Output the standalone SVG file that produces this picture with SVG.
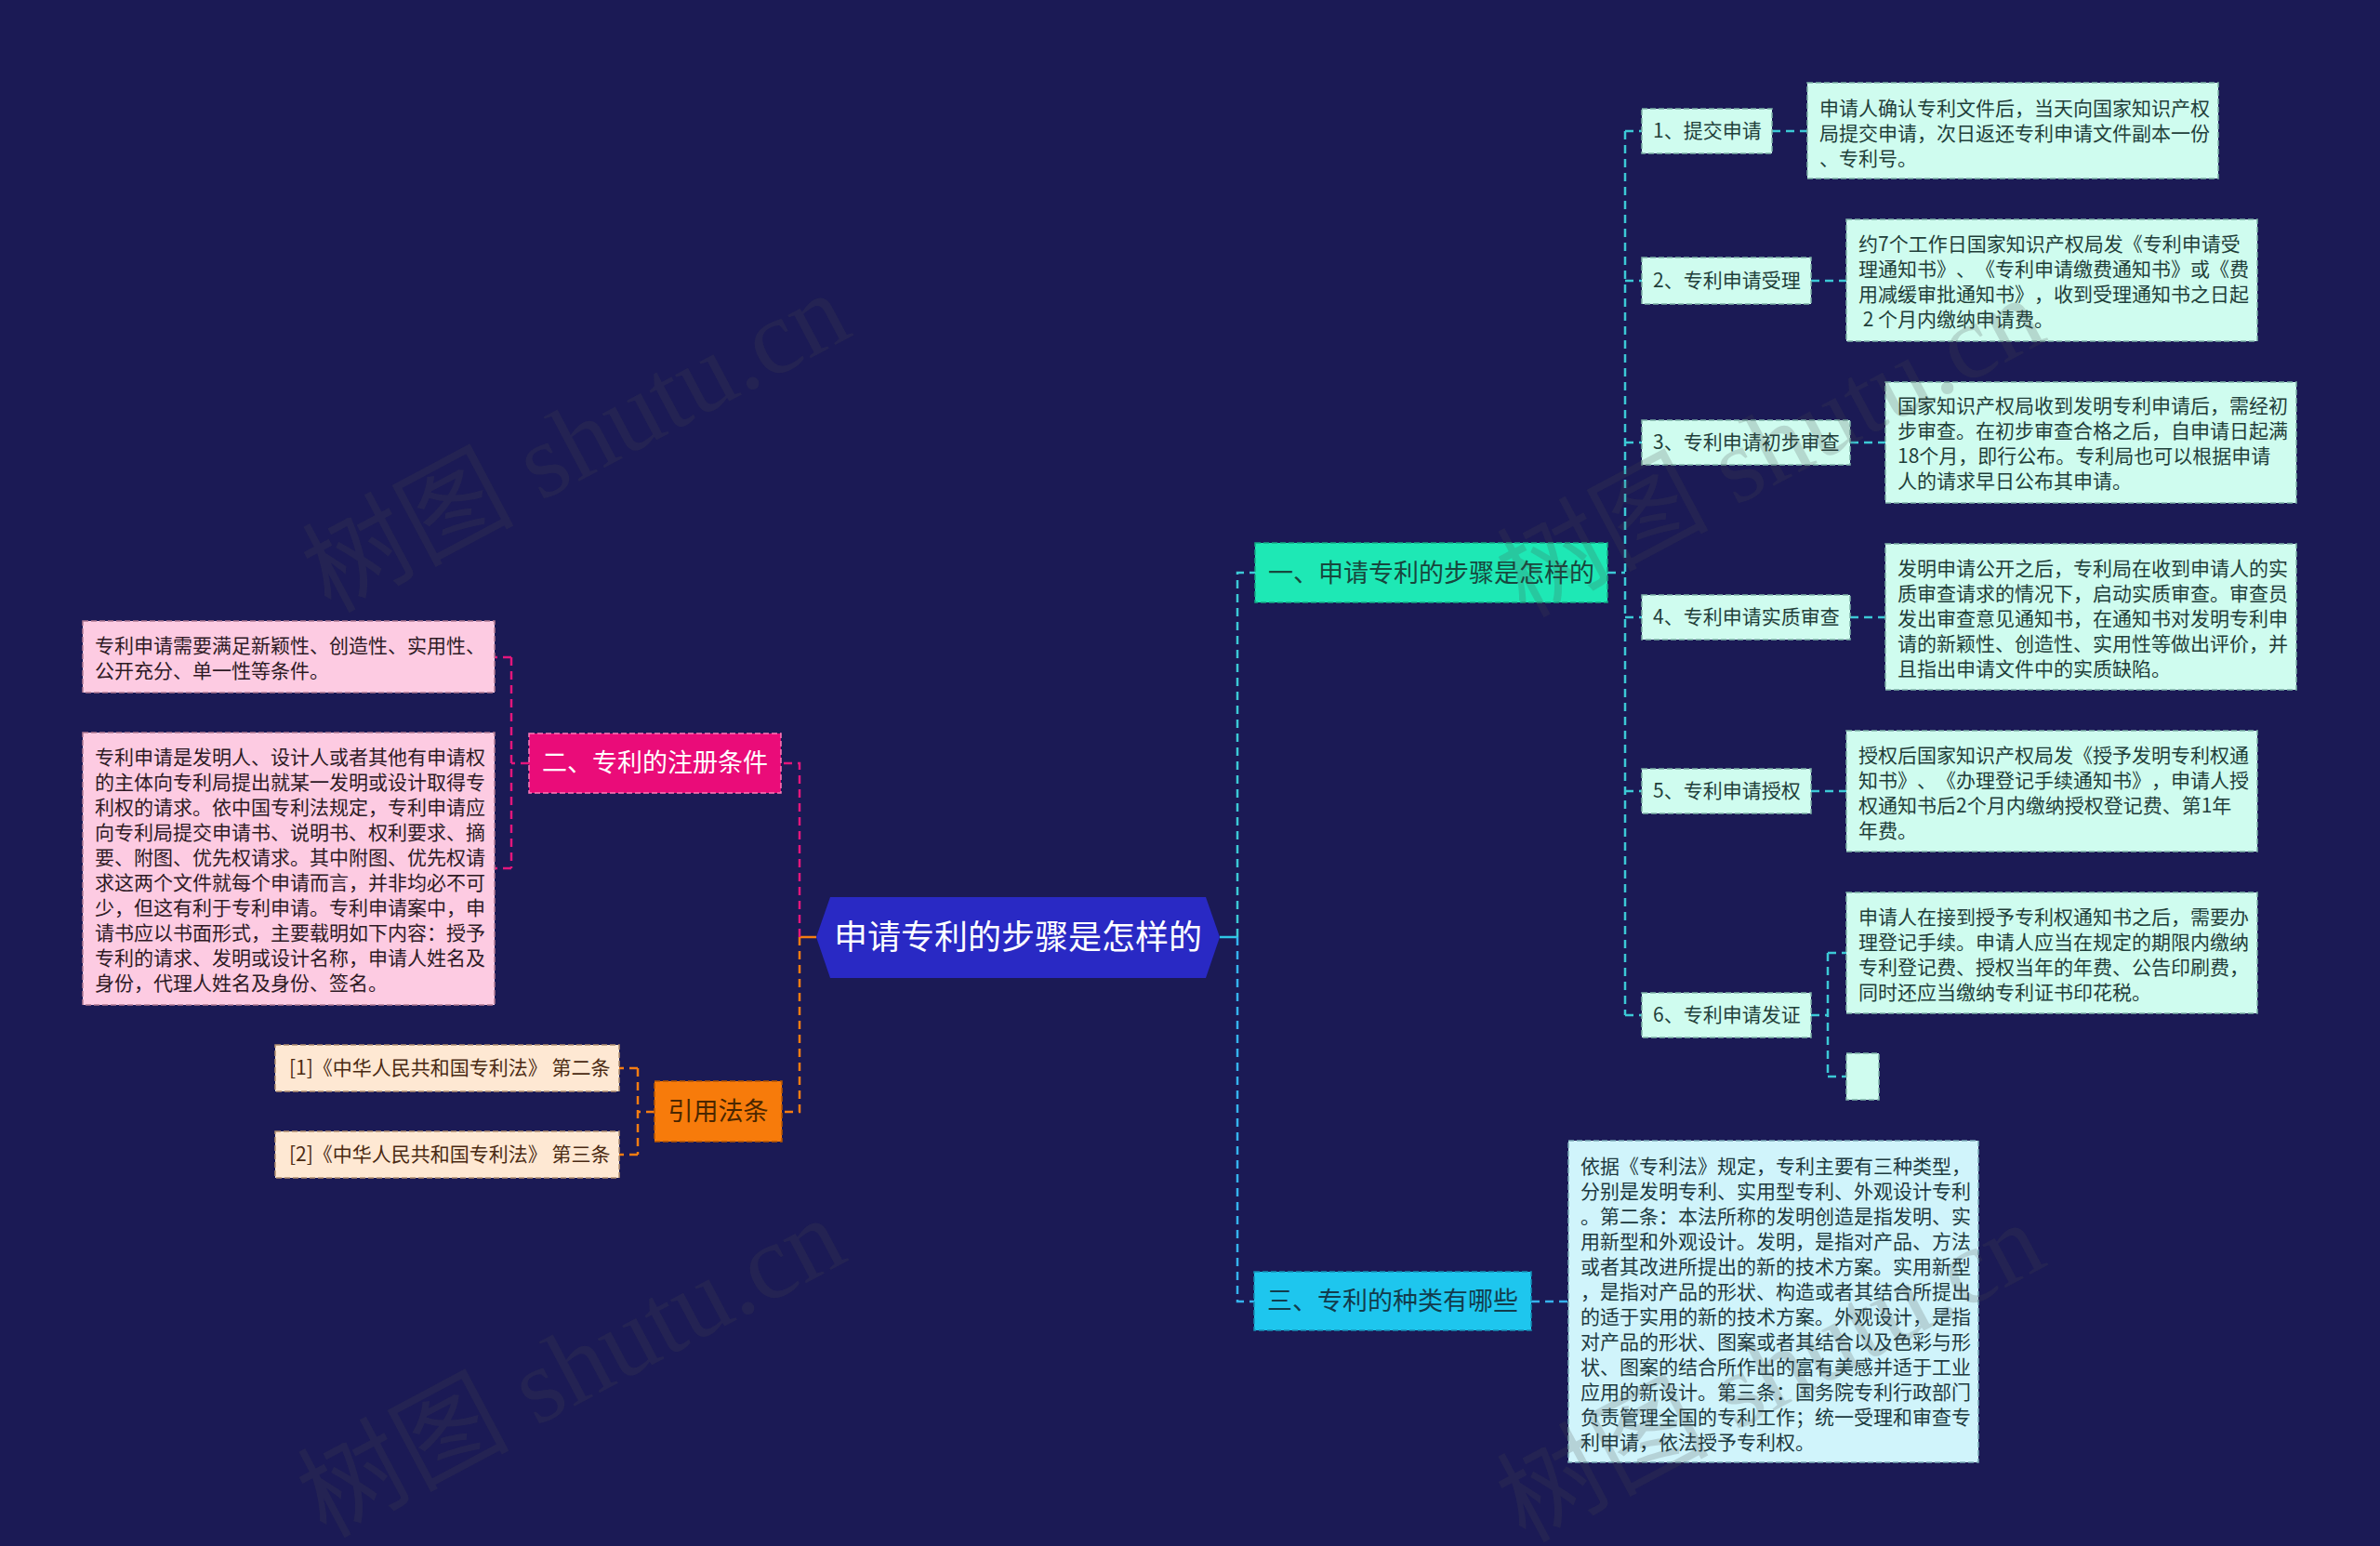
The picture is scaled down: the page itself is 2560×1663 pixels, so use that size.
<svg xmlns="http://www.w3.org/2000/svg" width="2560" height="1663" viewBox="0 0 2560 1663">
<style>
text{font-family:"Noto Sans CJK SC","Noto Sans",sans-serif;font-kerning:none;text-spacing-trim:space-all;font-feature-settings:"kern" 0,"halt" 0,"chws" 0;}
.t21{font-size:21px;}
.t27{font-size:27px;}
.step{fill:#cffcef;stroke:#7fb3a8;stroke-width:1.5;stroke-dasharray:6 3;}
.note{fill:#cffcef;stroke:#7fb3a8;stroke-width:1.5;stroke-dasharray:6 3;}
.note3{fill:#d0f4fb;stroke:#7aa9b5;stroke-width:1.5;stroke-dasharray:6 3;}
.pink{fill:#fdcbe2;stroke:#b07a92;stroke-width:1.5;stroke-dasharray:6 3;}
.peach{fill:#fee8d3;stroke:#b39070;stroke-width:1.5;stroke-dasharray:6 3;}
.dk{fill:#1f3f3a;}
.dkp{fill:#2e1a25;}
.dko{fill:#4a2a12;}
.c-teal{fill:none;stroke:#3cc9d6;stroke-width:2.5;stroke-dasharray:9 6;}
.c-blue{fill:none;stroke:#35b3ee;stroke-width:2.5;stroke-dasharray:9 6;}
.c-mag{fill:none;stroke:#e3167c;stroke-width:2.5;stroke-dasharray:9 6;}
.c-org{fill:none;stroke:#f57d12;stroke-width:2.5;stroke-dasharray:9 6;}
.wm{font-family:"Liberation Serif","Noto Sans CJK SC",serif;font-size:114px;fill:#4a4a4a;fill-opacity:0.2;}
</style>
<rect x="0" y="0" width="2560" height="1663" fill="#1b1a55"/>

<g id="connectors">
  <path d="M1312,1008 H1331" fill="none" stroke="#2fc6e6" stroke-width="2.5"/>
  <path class="c-teal" d="M1331,1008 V616 H1350"/>
  <path class="c-blue" d="M1331,1008 V1400 H1349"/>
  <path class="c-teal" d="M1729,616 H1748"/>
  <path class="c-teal" d="M1748,141 V1092"/>
  <path class="c-teal" d="M1748,141 H1766 M1748,302 H1766 M1748,476 H1766 M1748,664 H1766 M1748,851 H1766 M1748,1092 H1766"/>
  <path class="c-teal" d="M1906,141 H1944 M1948,302 H1986 M1990,476 H2028 M1990,664 H2028 M1948,851 H1986"/>
  <path class="c-teal" d="M1948,1092 H1966 M1966,1025 V1158 M1966,1025 H1986 M1966,1158 H1986"/>
  <path class="c-blue" d="M1647,1400 H1687"/>
  <path d="M878,1008 H860" fill="none" stroke="#f57d12" stroke-width="2.5"/>
  <path class="c-mag" d="M860,1008 V821 H840"/>
  <path class="c-mag" d="M569,821 H550 M550,707 V934 M550,707 H532 M550,934 H532"/>
  <path class="c-org" d="M860,1008 V1196 H841"/>
  <path class="c-org" d="M704,1196 H686 M686,1149 V1242 M686,1149 H666 M686,1242 H666"/>
</g>

<g id="center">
  <polygon points="878,1008 893,965 1297,965 1312,1008 1297,1052 893,1052" fill="#2929c4"/>
  <text x="1095" y="1021" font-size="36" fill="#ffffff" text-anchor="middle">申请专利的步骤是怎样的</text>
</g>

<g id="branch1">
  <rect x="1350" y="584" width="379" height="64" fill="#1ee8b5" stroke="#14a884" stroke-width="1.5" stroke-dasharray="6 3"/>
  <text class="t27" x="1539.5" y="626" fill="#17473d" text-anchor="middle">一、申请专利的步骤是怎样的</text>
</g>

<g id="step1">
  <rect class="step" x="1766" y="117" width="140" height="48"/>
  <text class="t21 dk" x="1778" y="148">1、提交申请</text>
</g>
<g id="note1">
  <rect class="note" x="1944" y="89" width="442" height="103"/>
  <text class="t21 dk" x="1957" y="124">申请人确认专利文件后，当天向国家知识产权</text>
  <text class="t21 dk" x="1957" y="151">局提交申请，次日返还专利申请文件副本一份</text>
  <text class="t21 dk" x="1957" y="178">、专利号。</text>
</g>

<g id="step2">
  <rect class="step" x="1766" y="277" width="182" height="50"/>
  <text class="t21 dk" x="1778" y="309">2、专利申请受理</text>
</g>
<g id="note2">
  <rect class="note" x="1986" y="236" width="442" height="131"/>
  <text class="t21 dk" x="1999" y="270">约7个工作日国家知识产权局发《专利申请受</text>
  <text class="t21 dk" x="1999" y="297">理通知书》、《专利申请缴费通知书》或《费</text>
  <text class="t21 dk" x="1999" y="324">用减缓审批通知书》，收到受理通知书之日起</text>
  <text class="t21 dk" x="1999" y="351" xml:space="preserve"> 2 个月内缴纳申请费。</text>
</g>

<g id="step3">
  <rect class="step" x="1766" y="452" width="224" height="48"/>
  <text class="t21 dk" x="1778" y="483">3、专利申请初步审查</text>
</g>
<g id="note3">
  <rect class="note" x="2028" y="411" width="442" height="130"/>
  <text class="t21 dk" x="2041" y="444">国家知识产权局收到发明专利申请后，需经初</text>
  <text class="t21 dk" x="2041" y="471">步审查。在初步审查合格之后，自申请日起满</text>
  <text class="t21 dk" x="2041" y="498">18个月，即行公布。专利局也可以根据申请</text>
  <text class="t21 dk" x="2041" y="525">人的请求早日公布其申请。</text>
</g>

<g id="step4">
  <rect class="step" x="1766" y="640" width="224" height="48"/>
  <text class="t21 dk" x="1778" y="671">4、专利申请实质审查</text>
</g>
<g id="note4">
  <rect class="note" x="2028" y="585" width="442" height="157"/>
  <text class="t21 dk" x="2041" y="619">发明申请公开之后，专利局在收到申请人的实</text>
  <text class="t21 dk" x="2041" y="646">质审查请求的情况下，启动实质审查。审查员</text>
  <text class="t21 dk" x="2041" y="673">发出审查意见通知书，在通知书对发明专利申</text>
  <text class="t21 dk" x="2041" y="700">请的新颖性、创造性、实用性等做出评价，并</text>
  <text class="t21 dk" x="2041" y="727">且指出申请文件中的实质缺陷。</text>
</g>

<g id="step5">
  <rect class="step" x="1766" y="827" width="182" height="48"/>
  <text class="t21 dk" x="1778" y="858">5、专利申请授权</text>
</g>
<g id="note5">
  <rect class="note" x="1986" y="786" width="442" height="130"/>
  <text class="t21 dk" x="1999" y="820">授权后国家知识产权局发《授予发明专利权通</text>
  <text class="t21 dk" x="1999" y="847">知书》、《办理登记手续通知书》，申请人授</text>
  <text class="t21 dk" x="1999" y="874">权通知书后2个月内缴纳授权登记费、第1年</text>
  <text class="t21 dk" x="1999" y="901">年费。</text>
</g>

<g id="step6">
  <rect class="step" x="1766" y="1068" width="182" height="48"/>
  <text class="t21 dk" x="1778" y="1099">6、专利申请发证</text>
</g>
<g id="note6">
  <rect class="note" x="1986" y="960" width="442" height="130"/>
  <text class="t21 dk" x="1999" y="994">申请人在接到授予专利权通知书之后，需要办</text>
  <text class="t21 dk" x="1999" y="1021">理登记手续。申请人应当在规定的期限内缴纳</text>
  <text class="t21 dk" x="1999" y="1048">专利登记费、授权当年的年费、公告印刷费，</text>
  <text class="t21 dk" x="1999" y="1075">同时还应当缴纳专利证书印花税。</text>
</g>
<g id="note6b">
  <rect class="note" x="1986" y="1133" width="35" height="50"/>
</g>

<g id="branch3">
  <rect x="1349" y="1368" width="298" height="63" fill="#1ec6ee" stroke="#1590b5" stroke-width="1.5" stroke-dasharray="6 3"/>
  <text class="t27" x="1498" y="1409" fill="#123c4c" text-anchor="middle">三、专利的种类有哪些</text>
</g>
<g id="note7">
  <rect class="note3" x="1687" y="1227" width="441" height="346"/>
  <text class="t21" fill="#1d3a40" x="1700" y="1262">依据《专利法》规定，专利主要有三种类型，</text>
  <text class="t21" fill="#1d3a40" x="1700" y="1289">分别是发明专利、实用型专利、外观设计专利</text>
  <text class="t21" fill="#1d3a40" x="1700" y="1316">。第二条：本法所称的发明创造是指发明、实</text>
  <text class="t21" fill="#1d3a40" x="1700" y="1343">用新型和外观设计。发明，是指对产品、方法</text>
  <text class="t21" fill="#1d3a40" x="1700" y="1370">或者其改进所提出的新的技术方案。实用新型</text>
  <text class="t21" fill="#1d3a40" x="1700" y="1397">，是指对产品的形状、构造或者其结合所提出</text>
  <text class="t21" fill="#1d3a40" x="1700" y="1424">的适于实用的新的技术方案。外观设计，是指</text>
  <text class="t21" fill="#1d3a40" x="1700" y="1451">对产品的形状、图案或者其结合以及色彩与形</text>
  <text class="t21" fill="#1d3a40" x="1700" y="1478">状、图案的结合所作出的富有美感并适于工业</text>
  <text class="t21" fill="#1d3a40" x="1700" y="1505">应用的新设计。第三条：国务院专利行政部门</text>
  <text class="t21" fill="#1d3a40" x="1700" y="1532">负责管理全国的专利工作；统一受理和审查专</text>
  <text class="t21" fill="#1d3a40" x="1700" y="1559">利申请，依法授予专利权。</text>
</g>

<g id="branch2">
  <rect x="569" y="789" width="271" height="64" fill="#ea0c79" stroke="#ff7ab8" stroke-width="1.5" stroke-dasharray="6 3"/>
  <text class="t27" x="704.5" y="830" fill="#ffffff" text-anchor="middle">二、专利的注册条件</text>
</g>
<g id="pink1">
  <rect class="pink" x="89" y="668" width="443" height="77"/>
  <text class="t21 dkp" x="102" y="702">专利申请需要满足新颖性、创造性、实用性、</text>
  <text class="t21 dkp" x="102" y="729">公开充分、单一性等条件。</text>
</g>
<g id="pink2">
  <rect class="pink" x="89" y="788" width="443" height="293"/>
  <text class="t21 dkp" x="102" y="822">专利申请是发明人、设计人或者其他有申请权</text>
  <text class="t21 dkp" x="102" y="849">的主体向专利局提出就某一发明或设计取得专</text>
  <text class="t21 dkp" x="102" y="876">利权的请求。依中国专利法规定，专利申请应</text>
  <text class="t21 dkp" x="102" y="903">向专利局提交申请书、说明书、权利要求、摘</text>
  <text class="t21 dkp" x="102" y="930">要、附图、优先权请求。其中附图、优先权请</text>
  <text class="t21 dkp" x="102" y="957">求这两个文件就每个申请而言，并非均必不可</text>
  <text class="t21 dkp" x="102" y="984">少，但这有利于专利申请。专利申请案中，申</text>
  <text class="t21 dkp" x="102" y="1011">请书应以书面形式，主要载明如下内容：授予</text>
  <text class="t21 dkp" x="102" y="1038">专利的请求、发明或设计名称，申请人姓名及</text>
  <text class="t21 dkp" x="102" y="1065">身份，代理人姓名及身份、签名。</text>
</g>

<g id="branch4">
  <rect x="704" y="1163" width="137" height="65" fill="#f77b0b" stroke="#b65500" stroke-width="1.5" stroke-dasharray="6 3"/>
  <text class="t27" x="772.5" y="1205" fill="#4a2600" text-anchor="middle">引用法条</text>
</g>
<g id="ref1">
  <rect class="peach" x="296" y="1124" width="370" height="50"/>
  <text class="t21 dko" x="311" y="1156">[1]《中华人民共和国专利法》 第二条</text>
</g>
<g id="ref2">
  <rect class="peach" x="296" y="1217" width="370" height="50"/>
  <text class="t21 dko" x="311" y="1249">[2]《中华人民共和国专利法》 第三条</text>
</g>

<g id="watermark">
  <text class="wm" transform="translate(355,660) rotate(-28)">树图 shutu.cn</text>
  <text class="wm" transform="translate(1640,665) rotate(-28)">树图 shutu.cn</text>
  <text class="wm" transform="translate(350,1655) rotate(-28)">树图 shutu.cn</text>
  <text class="wm" transform="translate(1640,1660) rotate(-28)">树图 shutu.cn</text>
</g>
</svg>
